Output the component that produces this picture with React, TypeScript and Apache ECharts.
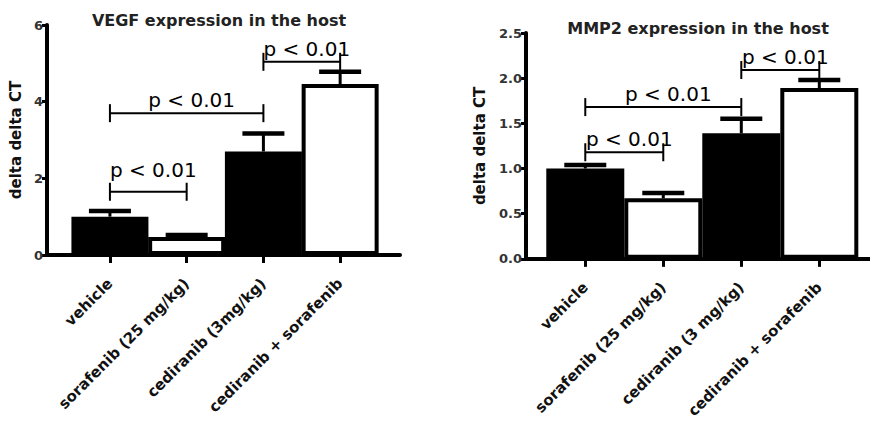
import React, { useEffect, useRef } from 'react';
import * as echarts from 'echarts';

// ---- data ----
const vegfCategories = ['vehicle', 'sorafenib (25 mg/kg)', 'cediranib (3mg/kg)', 'cediranib + sorafenib'];
const mmp2Categories = ['vehicle', 'sorafenib (25 mg/kg)', 'cediranib (3 mg/kg)', 'cediranib + sorafenib'];
const vegfMeans = [1.0, 0.47, 2.7, 4.46];
const vegfUpper = [1.15, 0.52, 3.17, 4.78];
const mmp2Means = [1.0, 0.67, 1.39, 1.89];
const mmp2Upper = [1.04, 0.73, 1.55, 1.98];
// [from category, to category, y]
const vegfBrackets = [[0, 1, 1.65], [0, 2, 3.7], [2, 3, 5.04]];
const mmp2Brackets = [[0, 1, 1.18], [0, 2, 1.68], [2, 3, 2.09]];
const pLabel = 'p < 0.01';
const vegfTitle = 'VEGF expression in the host';
const mmp2Title = 'MMP2 expression in the host';
const yName = 'delta delta CT';
const barFills = ['#000', '#fff', '#000', '#fff'];

// label lift tweaks (style, px)
const vegfLabelLift = [9, 0, 0];
const mmp2LabelLift = [0, 0, 0];

function xAxisFor(gridIndex: number, cats: string[], min: number, max: number) {
  return {
    type: 'value', gridIndex, min, max,
    splitLine: { show: false },
    axisLine: { show: true, onZero: false, lineStyle: { color: '#000', width: 4 } },
    axisTick: { show: true, customValues: [0, 1, 2, 3], length: 8, lineStyle: { color: '#000', width: 3 } },
    axisLabel: {
      customValues: [0, 1, 2, 3],
      formatter: (v: number) => cats[Math.round(v)] ?? '',
      rotate: 45, margin: 26,
      fontFamily: 'DejaVu Sans', fontWeight: 'bold', fontSize: 15, color: '#111',
    },
  };
}

function yAxisFor(gridIndex: number, max: number, interval: number, digits: number, nameGap: number) {
  return {
    type: 'value', gridIndex, min: 0, max, interval,
    splitLine: { show: false },
    axisLine: { show: true, onZero: false, lineStyle: { color: '#000', width: 4 } },
    axisTick: { show: true, length: 5, lineStyle: { color: '#000', width: 3 } },
    axisLabel: {
      formatter: (v: number) => v.toFixed(digits), margin: 4,
      fontFamily: 'DejaVu Sans', fontWeight: 'bold', fontSize: 13, color: '#333',
    },
    name: yName, nameLocation: 'middle', nameGap, nameRotate: 90,
    nameTextStyle: { fontFamily: 'DejaVu Sans', fontWeight: 'bold', fontSize: 15, color: '#111' },
  };
}

function barSeries(idx: number, means: number[], width: number) {
  return {
    type: 'bar', xAxisIndex: idx, yAxisIndex: idx, barWidth: width,
    data: means.map((m, i) => ({ value: [i, m], itemStyle: { color: barFills[i] } })),
    itemStyle: { borderColor: '#000', borderWidth: 4 },
    z: 2,
  };
}

function errorSeries(idx: number, means: number[], upper: number[]) {
  return {
    type: 'custom', xAxisIndex: idx, yAxisIndex: idx, z: 5,
    data: means.map((m, i) => [i, m, upper[i]]),
    encode: { x: 0, y: [1, 2] },
    renderItem: (_p: any, api: any) => {
      const x = api.value(0);
      const lo = api.coord([x, api.value(1)]);
      const hi = api.coord([x, api.value(2)]);
      return {
        type: 'group',
        children: [
          { type: 'line', shape: { x1: lo[0], y1: lo[1], x2: hi[0], y2: hi[1] }, style: { stroke: '#000', lineWidth: 3 } },
          { type: 'line', shape: { x1: hi[0] - 21, y1: hi[1], x2: hi[0] + 21, y2: hi[1] }, style: { stroke: '#000', lineWidth: 4.5 } },
        ],
      };
    },
  };
}

function bracketSeries(idx: number, brackets: number[][], lift: number[]) {
  return {
    type: 'custom', xAxisIndex: idx, yAxisIndex: idx, z: 6,
    data: brackets,
    encode: { x: [0, 1], y: 2 },
    renderItem: (p: any, api: any) => {
      const y = api.value(2);
      const a = api.coord([api.value(0), y]);
      const b = api.coord([api.value(1), y]);
      const s = { stroke: '#000', lineWidth: 2 };
      const up = lift[p.dataIndex] || 0;
      return {
        type: 'group',
        children: [
          { type: 'line', shape: { x1: a[0], y1: a[1], x2: b[0], y2: b[1] }, style: s },
          { type: 'line', shape: { x1: a[0], y1: a[1] - 9, x2: a[0], y2: a[1] + 9 }, style: s },
          { type: 'line', shape: { x1: b[0], y1: b[1] - 9, x2: b[0], y2: b[1] + 9 }, style: s },
          {
            type: 'text', x: (a[0] + b[0]) / 2 + 5, y: a[1] - 13 - up,
            style: {
              text: pLabel, fill: '#000', font: '20px "DejaVu Sans"',
              align: 'center', verticalAlign: 'middle', textAlign: 'center', textVerticalAlign: 'middle',
            },
          },
        ],
      };
    },
  };
}

export default function App() {
  const ref = useRef<HTMLDivElement>(null);
  useEffect(() => {
    if (!ref.current) return;
    const chart = echarts.init(ref.current, undefined, { renderer: 'svg' });
    const titleFont = 'bold 16px "DejaVu Sans"';
    chart.setOption({
      animation: false,
      backgroundColor: '#fff',
      grid: [
        { left: 47, top: 25, width: 353, height: 230 },
        { left: 526, top: 33, width: 344, height: 228 },
      ],
      xAxis: [
        xAxisFor(0, vegfCategories, -0.82, 3.78),
        xAxisFor(1, mmp2Categories, -0.76, 3.65),
      ],
      yAxis: [
        yAxisFor(0, 6, 2, 0, 24),
        yAxisFor(1, 2.5, 0.5, 1, 39),
      ],
      graphic: [
        { type: 'text', x: 219, y: 20, style: { text: vegfTitle, font: titleFont, fill: '#222', align: 'center', verticalAlign: 'middle', textAlign: 'center', textVerticalAlign: 'middle' } },
        { type: 'text', x: 698, y: 28, style: { text: mmp2Title, font: titleFont, fill: '#222', align: 'center', verticalAlign: 'middle', textAlign: 'center', textVerticalAlign: 'middle' } },
      ],
      series: [
        barSeries(0, vegfMeans, 77),
        barSeries(1, mmp2Means, 78),
        errorSeries(0, vegfMeans, vegfUpper),
        errorSeries(1, mmp2Means, mmp2Upper),
        bracketSeries(0, vegfBrackets, vegfLabelLift),
        bracketSeries(1, mmp2Brackets, mmp2LabelLift),
      ],
    });
    return () => chart.dispose();
  }, []);
  return <div ref={ref} style={{ position: 'fixed', left: 0, top: 0, width: 870, height: 421, background: '#fff' }} />;
}
